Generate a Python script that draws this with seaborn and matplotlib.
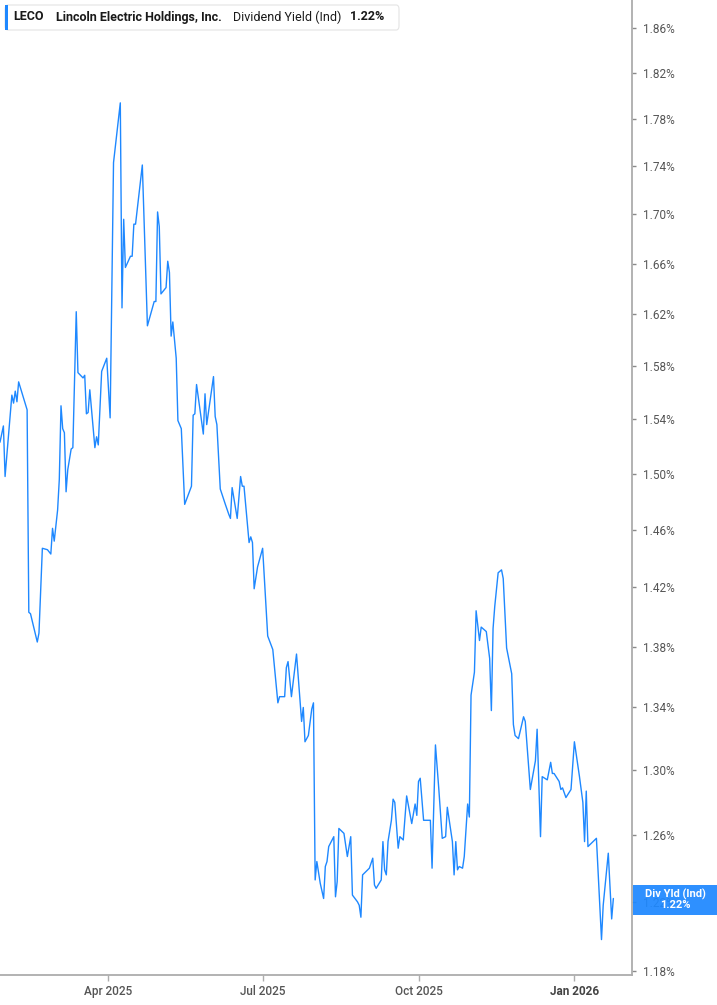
import pandas as pd
import seaborn as sns
import matplotlib.pyplot as plt
from matplotlib.ticker import FixedLocator, NullLocator, FuncFormatter
from matplotlib.patches import FancyBboxPatch, Rectangle

# LECO dividend yield (indicated)
dates = [
    '2025-01-27', '2025-01-29', '2025-01-30', '2025-02-03', '2025-02-04', '2025-02-05', '2025-02-06', '2025-02-07', '2025-02-12', '2025-02-13',
    '2025-02-14', '2025-02-18', '2025-02-19', '2025-02-21', '2025-02-24', '2025-02-26', '2025-02-27', '2025-02-28', '2025-03-02', '2025-03-03',
    '2025-03-04', '2025-03-05', '2025-03-06', '2025-03-07', '2025-03-08', '2025-03-10', '2025-03-11', '2025-03-13', '2025-03-14', '2025-03-17',
    '2025-03-18', '2025-03-19', '2025-03-20', '2025-03-21', '2025-03-24', '2025-03-25', '2025-03-26', '2025-03-28', '2025-03-31', '2025-04-02',
    '2025-04-04', '2025-04-08', '2025-04-09', '2025-04-10', '2025-04-11', '2025-04-14', '2025-04-15', '2025-04-16', '2025-04-17', '2025-04-21',
    '2025-04-24', '2025-04-28', '2025-04-29', '2025-04-30', '2025-05-01', '2025-05-02', '2025-05-05', '2025-05-06', '2025-05-07', '2025-05-08',
    '2025-05-09', '2025-05-11', '2025-05-12', '2025-05-14', '2025-05-16', '2025-05-20', '2025-05-21', '2025-05-22', '2025-05-23', '2025-05-27',
    '2025-05-28', '2025-05-29', '2025-06-02', '2025-06-03', '2025-06-04', '2025-06-06', '2025-06-09', '2025-06-11', '2025-06-12', '2025-06-13',
    '2025-06-16', '2025-06-18', '2025-06-19', '2025-06-20', '2025-06-23', '2025-06-24', '2025-06-25', '2025-06-26', '2025-06-28', '2025-07-01',
    '2025-07-04', '2025-07-07', '2025-07-10', '2025-07-11', '2025-07-14', '2025-07-15', '2025-07-16', '2025-07-18', '2025-07-21', '2025-07-24',
    '2025-07-25', '2025-07-26', '2025-07-28', '2025-07-30', '2025-07-31', '2025-08-01', '2025-08-02', '2025-08-04', '2025-08-06', '2025-08-07',
    '2025-08-08', '2025-08-09', '2025-08-12', '2025-08-13', '2025-08-14', '2025-08-15', '2025-08-18', '2025-08-20', '2025-08-22', '2025-08-23',
    '2025-08-26', '2025-08-27', '2025-08-28', '2025-08-29', '2025-09-02', '2025-09-04', '2025-09-05', '2025-09-06', '2025-09-09', '2025-09-10',
    '2025-09-11', '2025-09-12', '2025-09-13', '2025-09-15', '2025-09-16', '2025-09-17', '2025-09-19', '2025-09-20', '2025-09-22', '2025-09-24',
    '2025-09-27', '2025-09-29', '2025-09-30', '2025-10-01', '2025-10-02', '2025-10-04', '2025-10-07', '2025-10-08', '2025-10-09', '2025-10-11',
    '2025-10-13', '2025-10-15', '2025-10-17', '2025-10-18', '2025-10-21', '2025-10-22', '2025-10-23', '2025-10-24', '2025-10-25', '2025-10-27',
    '2025-10-28', '2025-10-30', '2025-10-31', '2025-11-01', '2025-11-03', '2025-11-04', '2025-11-06', '2025-11-07', '2025-11-10', '2025-11-12',
    '2025-11-13', '2025-11-14', '2025-11-15', '2025-11-17', '2025-11-19', '2025-11-20', '2025-11-22', '2025-11-25', '2025-11-26', '2025-11-27',
    '2025-11-29', '2025-12-02', '2025-12-03', '2025-12-06', '2025-12-09', '2025-12-10', '2025-12-12', '2025-12-13', '2025-12-16', '2025-12-18',
    '2025-12-19', '2025-12-20', '2025-12-23', '2025-12-24', '2025-12-25', '2025-12-27', '2025-12-30', '2026-01-01', '2026-01-04', '2026-01-06',
    '2026-01-07', '2026-01-08', '2026-01-09', '2026-01-11', '2026-01-14', '2026-01-17', '2026-01-18', '2026-01-21', '2026-01-23', '2026-01-24',
]
yields = [
    1.523, 1.535, 1.498, 1.558, 1.552, 1.561, 1.553, 1.568, 1.547, 1.403,
    1.402, 1.383, 1.389, 1.447, 1.446, 1.443, 1.461, 1.452, 1.474, 1.496,
    1.550, 1.533, 1.530, 1.487, 1.503, 1.518, 1.519, 1.622, 1.575, 1.571,
    1.573, 1.544, 1.545, 1.562, 1.519, 1.527, 1.521, 1.576, 1.586, 1.541,
    1.743, 1.794, 1.625, 1.696, 1.657, 1.666, 1.666, 1.692, 1.692, 1.741,
    1.611, 1.630, 1.630, 1.702, 1.690, 1.636, 1.641, 1.662, 1.653, 1.603,
    1.614, 1.586, 1.539, 1.533, 1.478, 1.491, 1.543, 1.544, 1.566, 1.529,
    1.559, 1.536, 1.572, 1.542, 1.536, 1.489, 1.478, 1.471, 1.468, 1.490,
    1.468, 1.498, 1.491, 1.491, 1.451, 1.455, 1.451, 1.419, 1.434, 1.447,
    1.387, 1.378, 1.343, 1.347, 1.347, 1.366, 1.370, 1.347, 1.375, 1.331,
    1.340, 1.318, 1.322, 1.339, 1.343, 1.233, 1.244, 1.231, 1.222, 1.241,
    1.244, 1.253, 1.259, 1.223, 1.232, 1.264, 1.261, 1.247, 1.259, 1.224,
    1.220, 1.218, 1.211, 1.236, 1.240, 1.246, 1.230, 1.228, 1.233, 1.256,
    1.239, 1.236, 1.256, 1.269, 1.282, 1.280, 1.252, 1.259, 1.257, 1.284,
    1.267, 1.279, 1.272, 1.293, 1.295, 1.269, 1.269, 1.269, 1.240, 1.316,
    1.288, 1.258, 1.259, 1.277, 1.256, 1.236, 1.256, 1.239, 1.241, 1.240,
    1.247, 1.279, 1.271, 1.348, 1.363, 1.404, 1.384, 1.393, 1.390, 1.372,
    1.338, 1.392, 1.407, 1.430, 1.432, 1.426, 1.379, 1.362, 1.329, 1.322,
    1.320, 1.334, 1.331, 1.288, 1.306, 1.326, 1.259, 1.296, 1.294, 1.305,
    1.298, 1.298, 1.293, 1.288, 1.289, 1.283, 1.288, 1.318, 1.296, 1.280,
    1.256, 1.287, 1.253, 1.255, 1.258, 1.198, 1.218, 1.249, 1.210, 1.222,
]
ytick_vals = [1.18, 1.22, 1.26, 1.30, 1.34, 1.38, 1.42, 1.46, 1.50, 1.54,
              1.58, 1.62, 1.66, 1.70, 1.74, 1.78, 1.82, 1.86]
xtick_dates = ['2025-04-01', '2025-07-01', '2025-10-01', '2026-01-01']
xtick_labels = ['Apr 2025', 'Jul 2025', 'Oct 2025', 'Jan 2026']
last_value = '1.22%'

BLUE = '#1e88ff'
W, H = 717, 1005

df = pd.DataFrame({'Date': pd.to_datetime(dates), 'Yield': yields})

sns.set_theme(style='white')
plt.rcParams['font.family'] = ['Roboto', 'DejaVu Sans']

fig = plt.figure(figsize=(W / 100, H / 100), dpi=100)
ax = fig.add_axes([0, 30 / H, 632 / W, 975 / H])

sns.lineplot(data=df, x='Date', y='Yield', ax=ax, estimator=None,
             color=BLUE, linewidth=1.0)

ax.set_yscale('log')
ax.set_ylim(1.1777, 1.8853)
ax.set_xlim(pd.Timestamp('2025-01-27'), pd.Timestamp('2026-02-04'))
ax.set_xlabel('')
ax.set_ylabel('')

ax.yaxis.tick_right()
ax.yaxis.set_major_locator(FixedLocator(ytick_vals))
ax.yaxis.set_minor_locator(NullLocator())
ax.yaxis.set_major_formatter(FuncFormatter(lambda v, p: f'{v:.2f}%'))

ax.set_xticks(pd.to_datetime(xtick_dates))
ax.set_xticklabels(xtick_labels)
ax.xaxis.set_minor_locator(NullLocator())

for s in ['left', 'top']:
    ax.spines[s].set_visible(False)
for s in ['right', 'bottom']:
    ax.spines[s].set_color('#adadad')
    ax.spines[s].set_linewidth(1.3)

ax.tick_params(axis='y', which='major', right=True, left=False, length=3, width=1,
               color='#8a8a8a', pad=5, labelsize=8.5, labelcolor='#555555')
ax.tick_params(axis='x', which='major', bottom=True, length=4, width=1,
               color='#adadad', pad=3, labelsize=8.5, labelcolor='#555555')
for lbl in ax.get_xticklabels():
    if lbl.get_text() == 'Jan 2026':
        lbl.set_fontweight('bold')
        lbl.set_color('#444444')
    else:
        lbl.set_fontweight('medium')


def fx(x):
    return x / W


def fy(y):
    return 1 - y / H


# header box
fig.add_artist(FancyBboxPatch((fx(5), fy(30)), fx(394), 25 / H,
                              boxstyle='round,pad=0,rounding_size=0.004',
                              transform=fig.transFigure, facecolor='white',
                              edgecolor='#e4e4e4', linewidth=0.8))
fig.add_artist(Rectangle((fx(5), fy(30)), fx(2.5), 25 / H,
                         transform=fig.transFigure, facecolor=BLUE, edgecolor='none'))
head_y = fy(17)
fig.text(fx(13), head_y, 'LECO', fontsize=9, fontweight='bold', color='#1a1a1a', va='center')
fig.text(fx(56), head_y, 'Lincoln Electric Holdings, Inc.', fontsize=9,
         fontweight='bold', color='#1a1a1a', va='center')
fig.text(fx(233), head_y, 'Dividend Yield (Ind)', fontsize=9, color='#1a1a1a', va='center')
fig.text(fx(350), head_y, last_value, fontsize=9, fontweight='bold', color='#1a1a1a', va='center')

# last value badge on the axis
fig.add_artist(Rectangle((fx(633), fy(915)), fx(84), 30 / H,
                         transform=fig.transFigure, facecolor=BLUE,
                         edgecolor='none', alpha=0.93))
fig.text(fx(675), fy(894), 'Div Yld (Ind)', fontsize=8, fontweight='bold',
         color='white', ha='center', va='center')
fig.text(fx(675), fy(905), last_value, fontsize=8, fontweight='bold',
         color='white', ha='center', va='center')

fig.savefig('out.png', dpi=100, facecolor='white')
